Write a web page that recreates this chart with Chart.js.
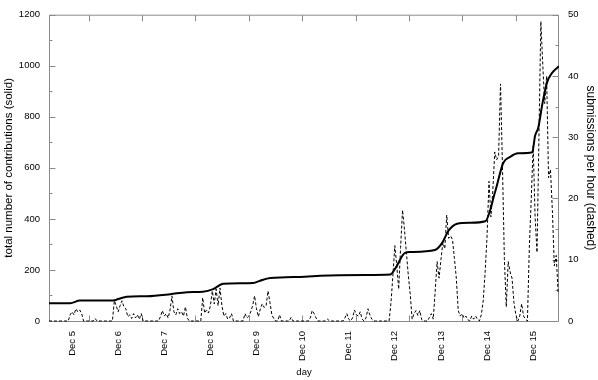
<!DOCTYPE html>
<html><head><meta charset="utf-8">
<script src="https://cdn.jsdelivr.net/npm/chart.js@4.4.1/dist/chart.umd.min.js"></script>
<style>html,body{margin:0;padding:0;background:#fff}canvas{display:block}</style>
</head><body>
<canvas id="c" width="598" height="380"></canvas>
<script>
// ---- data ----
const dayTicks  = [5, 6, 7, 8, 9, 10, 11, 12, 13, 14, 15];
const dayLabels = ['Dec 5','Dec 6','Dec 7','Dec 8','Dec 9','Dec 10','Dec 11','Dec 12','Dec 13','Dec 14','Dec 15'];
// unlabelled x tick marks (every 100000 s), in days
const xTickDays = [5.36, 6.517, 7.675, 8.832, 9.99, 11.147, 12.304, 13.462, 14.619];
const leftTicks  = [0, 200, 400, 600, 800, 1000, 1200];
const rightTicks = [0, 10, 20, 30, 40, 50];

// total number of contributions (solid) : day position, value
const totalDays   = [4.50, 4.96, 5.17, 5.89, 6.00, 6.19, 6.63, 7.13, 7.49, 7.84, 8.06, 8.28, 8.93, 9.08, 9.30, 10.05, 10.38, 11.36, 11.90, 12.01, 12.22, 12.33, 12.87, 13.03, 13.16, 13.35, 13.63, 13.96, 14.18, 14.35, 14.50, 14.67, 14.98, 15.04, 15.11, 15.20, 15.30, 15.41, 15.56];
const totalValues = [70, 70, 80, 80, 86, 95, 97, 105, 113, 115, 125, 146, 149, 158, 168, 173, 177, 180, 182, 206, 267, 270, 278, 307, 353, 381, 385, 391, 509, 619, 643, 657, 661, 725, 757, 851, 934, 972, 998];

// submissions per hour (dashed), hourly, starting Dec 4 12:00
const hourStartDay = 4.5;
const subsDec4  = [0,0,0,0,0,0,0,0,0,0,0,1];
const subsDec5  = [1.5,1,2,1.5,1.8,1.2,0,0,0,0,0,0,0.4,0,0,0,0,0,0,0,0,0,3.3,2.5];
const subsDec6  = [1.5,2.5,3.3,2.3,2,0.7,1,0.4,1.2,0.5,1,0.3,1.2,0,0,0,0,0,0,0,0,0,0.7,1.7];
const subsDec7  = [0.8,1.2,0.5,1.8,4.1,1.5,1,2,1.2,1.5,0.8,2.3,0.5,0,0,0,0,0,0,0,3.8,1.3,1.8,1.3];
const subsDec8  = [2.5,4.9,2.8,5.2,2.5,5.4,2.5,0.8,1.2,0.3,0.5,1.2,0,0,0,0,0,0,1.2,0.5,0.8,1.5,2.5,4.1];
const subsDec9  = [2,0.7,2,2.8,2.2,2.5,4.9,3,1,0.4,0,0,1,0,0,0,0,0,0.6,0,0,0,0,0];
const subsDec10 = [0,0,0,0,0.5,1.7,1.2,0.5,0,0,0,0,0,0.3,0,0,0,0,0,0,0,0,0.5,1.2];
const subsDec11 = [0.3,0,0.5,1.8,1,0.8,1.5,0.3,0,0.5,2,1,0.3,0,0,0,0,0,0,0,0,0,3,7.5];
const subsDec12 = [12.3,9,5.2,12,18.1,15,11.2,7.5,4.4,0.3,1.2,1.7,0.9,1.7,0.2,0,0,0,0.6,1.2,0.3,4.9,9.7,7];
const subsDec13 = [10,12.8,11.8,17.3,13.5,13.9,13.3,10.2,7,1.7,0.8,1.2,0.5,0.8,0.2,0,0.8,0.3,0.8,0.3,0,1,3.3,8];
const subsDec14 = [13.9,22.8,17,21.3,27.6,26.3,27,38.7,25.5,10.2,2.3,9.7,8,7,3,1,0,0.8,2.8,0.8,0.3,0,12,20];
const subsDec15 = [28.6,17,11.2,30,48.9,41.8,35.5,40,23.4,24.7,18,9,10.7,4.4];

// ---- build ----
const hourly = [].concat(subsDec4, subsDec5, subsDec6, subsDec7, subsDec8, subsDec9,
                         subsDec10, subsDec11, subsDec12, subsDec13, subsDec14, subsDec15);
const dashedPts = hourly.map((v, i) => ({x: hourStartDay + i / 24, y: v}));
const solidPts = totalDays.map((d, i) => ({x: d, y: totalValues[i]}));

const FAMILY = "'Liberation Sans', Arial, Helvetica, sans-serif";
const FONT = {family: FAMILY, size: 9.5};
const FRAME = '#8a8a8a';

const frameTicks = {
  id: 'frameTicks',
  beforeDatasetsDraw(chart) {
    const {ctx, chartArea: a, scales} = chart;
    ctx.save();
    ctx.strokeStyle = FRAME;
    ctx.lineWidth = 1;
    ctx.beginPath();
    const L = a.left + 0.5, R = a.right - 0.5, T = a.top + 0.5, B = a.bottom + 0.5;
    ctx.rect(L, T, R - L, B - T);
    const y = scales.y, y2 = scales.y2, x = scales.x;
    for (let v = 0; v <= 1200; v += 100) {
      const p = Math.round(y.getPixelForValue(v)) + 0.5;
      const len = (v % 200 === 0) ? 6 : 3;
      ctx.moveTo(L, p); ctx.lineTo(L + len, p);
    }
    for (let v = 0; v <= 50; v += 5) {
      const p = Math.round(y2.getPixelForValue(v)) + 0.5;
      const len = (v % 10 === 0) ? 6 : 3;
      ctx.moveTo(R, p); ctx.lineTo(R - len, p);
    }
    xTickDays.forEach(d => {
      const p = Math.round(x.getPixelForValue(d)) + 0.5;
      ctx.moveTo(p, B); ctx.lineTo(p, B - 6);
      ctx.moveTo(p, T); ctx.lineTo(p, T + 6);
    });
    ctx.stroke();
    ctx.restore();
  }
};

new Chart(document.getElementById('c'), {
  type: 'scatter',
  data: {
    datasets: [
      {
        label: 'submissions per hour',
        data: dashedPts,
        yAxisID: 'y2',
        showLine: true,
        borderColor: '#000',
        borderWidth: 1,
        borderDash: [3, 2],
        pointRadius: 0,
        tension: 0,
        clip: 3,
        order: 2
      },
      {
        label: 'total number of contributions',
        data: solidPts,
        yAxisID: 'y',
        showLine: true,
        borderColor: '#000',
        borderWidth: 2,
        pointRadius: 0,
        cubicInterpolationMode: 'monotone',
        order: 1
      }
    ]
  },
  options: {
    responsive: false,
    animation: false,
    devicePixelRatio: 1,
    layout: {padding: {top: 5, left: 0, right: 0, bottom: 0}},
    plugins: {legend: {display: false}, tooltip: {enabled: false}},
    scales: {
      x: {
        type: 'linear',
        min: 4.5, max: 15.56,
        afterBuildTicks: s => { s.ticks = dayTicks.map(v => ({value: v})); },
        afterFit: s => { s.height = 59; },
        grid: {display: false, drawTicks: false},
        border: {display: false},
        ticks: {
          color: '#000', font: FONT, padding: 10,
          minRotation: 90, maxRotation: 90, autoSkip: false,
          callback: v => dayLabels[dayTicks.indexOf(v)]
        },
        title: {display: true, text: 'day', color: '#000', font: FONT, padding: {top: 0, bottom: 2}}
      },
      y: {
        position: 'left',
        min: 0, max: 1200,
        afterBuildTicks: s => { s.ticks = leftTicks.map(v => ({value: v})); },
        afterFit: s => { s.width = 49; },
        grid: {display: false, drawTicks: false},
        border: {display: false},
        ticks: {color: '#000', font: FONT, padding: 9, callback: v => String(v)},
        title: {display: true, text: 'total number of contributions (solid)', color: '#000',
                font: {family: FAMILY, size: 11.5}, padding: {top: 2, bottom: 0}}
      },
      y2: {
        position: 'right',
        min: 0, max: 50,
        afterBuildTicks: s => { s.ticks = rightTicks.map(v => ({value: v})); },
        afterFit: s => { s.width = 39; },
        grid: {display: false, drawTicks: false},
        border: {display: false},
        ticks: {color: '#000', font: FONT, padding: 9, callback: v => String(v)},
        title: {display: true, text: 'submissions per hour (dashed)', color: '#000',
                font: {family: FAMILY, size: 12}, padding: {top: 0, bottom: 0}}
      }
    }
  },
  plugins: [frameTicks]
});
</script>
</body></html>
